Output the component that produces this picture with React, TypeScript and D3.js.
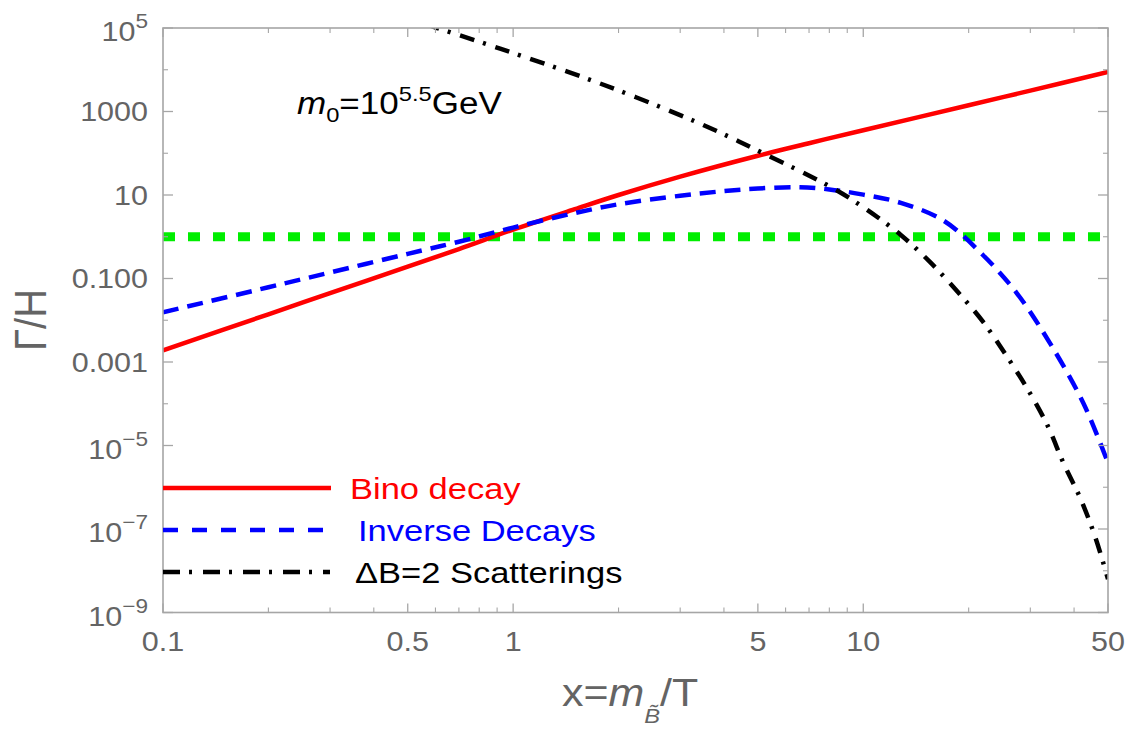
import React from 'react';
import * as d3 from 'd3';

// ---- data ----
const binoX = [0.1, 0.2, 0.3, 0.5, 0.7, 1, 1.5, 2, 3, 5, 7, 10, 20, 30, 50];
const binoY = [0.0019, 0.0139, 0.0446, 0.193, 0.507, 1.48, 4.57, 10, 27.5, 87, 174, 355, 1410, 3160, 8900];

const invX = [0.1, 0.2, 0.3, 0.5, 0.7, 1, 1.5, 2, 3, 4, 5, 6.5, 8, 10, 12.8, 17, 22, 27.5, 34.2, 42.6, 50];
const invY = [0.0155, 0.0617, 0.139, 0.389, 0.76, 1.66, 3.7, 6.0, 9.6, 12.4, 14.3, 15.4, 13.6, 10.2, 6.5, 2.4, 0.36, 0.0437, 0.00275, 1e-4, 3.8e-6];

const scatX = [0.56, 0.607, 0.918, 1.77, 3.42, 5.18, 8.2, 10.26, 12.8, 15.5, 18.6, 22, 25.8, 29.6, 33.6, 37.2, 41.7, 46, 50];
const scatY = [1.25e5, 1e5, 3.2e4, 4.7e3, 513, 100, 14.5, 4.4, 1.1, 0.25, 0.048, 0.0091, 1.3e-3, 2.1e-4, 3.0e-5, 4.0e-6, 5.4e-7, 6.3e-8, 6.3e-9];

const equilX = [0.1, 50];
const equilY = [1, 1];

const xMajorTicks = [0.1, 0.5, 1, 5, 10, 50];
const xMajorLabels = ['0.1', '0.5', '1', '5', '10', '50'];
const xMinorTicks = [0.2, 0.3, 0.4, 0.6, 0.7, 0.8, 0.9, 2, 3, 4, 6, 7, 8, 9, 20, 30, 40];

const yMajorTicks = [1e5, 1e3, 10, 0.1, 1e-3, 1e-5, 1e-7, 1e-9];
const yMajorLabels = ['10^5', '1000', '10', '0.100', '0.001', '10^−5', '10^−7', '10^−9'];
const yMinorTicks = [1e4, 1e2, 1, 1e-2, 1e-4, 1e-6, 1e-8];

const legendLabels = ['Bino decay', 'Inverse Decays', 'ΔB=2 Scatterings'];
const legendColors = ['#ff0000', '#0000ff', '#000000'];
const legendDash = ['none', '15,14', '17,9,3,11'];

// ---- layout ----
const W = 1127, H = 731;
const L = 163, R = 1108, T = 28, B = 612.5;
const SX = 1.13; // horizontal stretch of the reference
const FONT = 'Liberation Sans, Arial, Helvetica, sans-serif';
const GRAY = '#646464';
const FRAME = '#a6a6a6';

export default function App() {
  const x = d3.scaleLog().domain([0.1, 50]).range([L, R]);
  const y = d3.scaleLog().domain([1e-9, 1e5]).range([B, T]);

  const mk = (xs: number[], ys: number[]) =>
    d3.line<number>()
      .x((_, i) => x(xs[i]))
      .y((_, i) => y(ys[i]))
      .curve(d3.curveCatmullRom.alpha(0.5))(xs) || '';

  const legendY = [488, 530, 572];
  const legendTextX = [350, 358, 355];
  const legendLineEnd = [331, 325, 330];

  return (
    <svg width={W} height={H} style={{ position: 'absolute', left: 0, top: 0, background: '#fff' }}>
      <defs>
        <clipPath id="plot">
          <rect x={L} y={T} width={R - L} height={B - T} />
        </clipPath>
      </defs>

      {/* curves */}
      <g clipPath="url(#plot)" fill="none" strokeLinejoin="round">
        <path d={mk(equilX, equilY)} stroke="#00ee00" strokeWidth={9} strokeDasharray="12,13" />
        <path d={mk(binoX, binoY)} stroke="#ff0000" strokeWidth={4.5} />
        <path d={mk(invX, invY)} stroke="#0000ff" strokeWidth={4.5} strokeDasharray="16,9" />
        <path d={mk(scatX, scatY)} stroke="#000000" strokeWidth={4.5} strokeDasharray="15,9,3,10" />
      </g>

      {/* frame */}
      <rect x={L} y={T} width={R - L} height={B - T} fill="none" stroke={FRAME} strokeWidth={1.6} />

      {/* x ticks */}
      {xMajorTicks.map((v) => (
        <g key={'xM' + v} stroke={FRAME} strokeWidth={1.3}>
          <line x1={x(v)} x2={x(v)} y1={B} y2={B - 9} />
          <line x1={x(v)} x2={x(v)} y1={T} y2={T + 9} />
        </g>
      ))}
      {xMinorTicks.map((v) => (
        <g key={'xm' + v} stroke={FRAME} strokeWidth={1.1}>
          <line x1={x(v)} x2={x(v)} y1={B} y2={B - 5} />
          <line x1={x(v)} x2={x(v)} y1={T} y2={T + 5} />
        </g>
      ))}
      {xMajorTicks.map((v, i) => (
        <text key={'xl' + v} transform={`translate(${x(v)},651) scale(${SX},1)`} textAnchor="middle"
          fontFamily={FONT} fontSize={27} fill={GRAY}>{xMajorLabels[i]}</text>
      ))}

      {/* y ticks */}
      {yMajorTicks.map((v) => (
        <g key={'yM' + v} stroke={FRAME} strokeWidth={1.3}>
          <line x1={L} x2={L + 10} y1={y(v)} y2={y(v)} />
          <line x1={R} x2={R - 10} y1={y(v)} y2={y(v)} />
        </g>
      ))}
      {yMinorTicks.map((v) => (
        <g key={'ym' + v} stroke={FRAME} strokeWidth={1.1}>
          <line x1={L} x2={L + 5} y1={y(v)} y2={y(v)} />
          <line x1={R} x2={R - 5} y1={y(v)} y2={y(v)} />
        </g>
      ))}
      {yMajorTicks.map((v, i) => {
        const lab = yMajorLabels[i];
        const parts = lab.split('^');
        if (parts.length === 2) {
          return (
            <text key={'yl' + v} transform={`translate(148,${y(v) + 13}) scale(${SX},1)`} textAnchor="end"
              fontFamily={FONT} fontSize={27} fill={GRAY}>
              {parts[0]}
              <tspan dy={-13} fontSize={20}>{parts[1]}</tspan>
            </text>
          );
        }
        return (
          <text key={'yl' + v} transform={`translate(148,${y(v) + 9.5}) scale(${SX},1)`} textAnchor="end"
            fontFamily={FONT} fontSize={27} fill={GRAY}>{lab}</text>
        );
      })}

      {/* axis labels */}
      <text transform={`translate(46,320) scale(${SX},1) rotate(-90)`} textAnchor="middle"
        fontFamily={FONT} fontSize={40} fill={GRAY}>Γ/H</text>
      <text transform={`translate(562,706) scale(${SX},1)`} fontFamily={FONT} fontSize={38} fill={GRAY}>
        x=<tspan fontStyle="italic">m</tspan>
        <tspan fontStyle="italic" fontSize={21} dy={17}>{'B\u0303'}</tspan>
        <tspan dy={-17}>/T</tspan>
      </text>

      {/* annotation */}
      <text transform={`translate(297,114) scale(${SX},1)`} fontFamily={FONT} fontSize={31} fill="#000">
        <tspan fontStyle="italic">m</tspan>
        <tspan fontSize={21} dy={8}>0</tspan>
        <tspan dy={-8}>=10</tspan>
        <tspan fontSize={21} dy={-13}>5.5</tspan>
        <tspan dy={13}>GeV</tspan>
      </text>

      {/* legend */}
      {legendLabels.map((lab, i) => (
        <g key={'lg' + i}>
          <line x1={L} x2={legendLineEnd[i]} y1={legendY[i]} y2={legendY[i]} stroke={legendColors[i]}
            strokeWidth={4.5} strokeDasharray={legendDash[i]} />
          <text transform={`translate(${legendTextX[i]},${legendY[i] + 10.5}) scale(1.15,1)`}
            fontFamily={FONT} fontSize={30} fill={legendColors[i]}>{lab}</text>
        </g>
      ))}
    </svg>
  );
}
